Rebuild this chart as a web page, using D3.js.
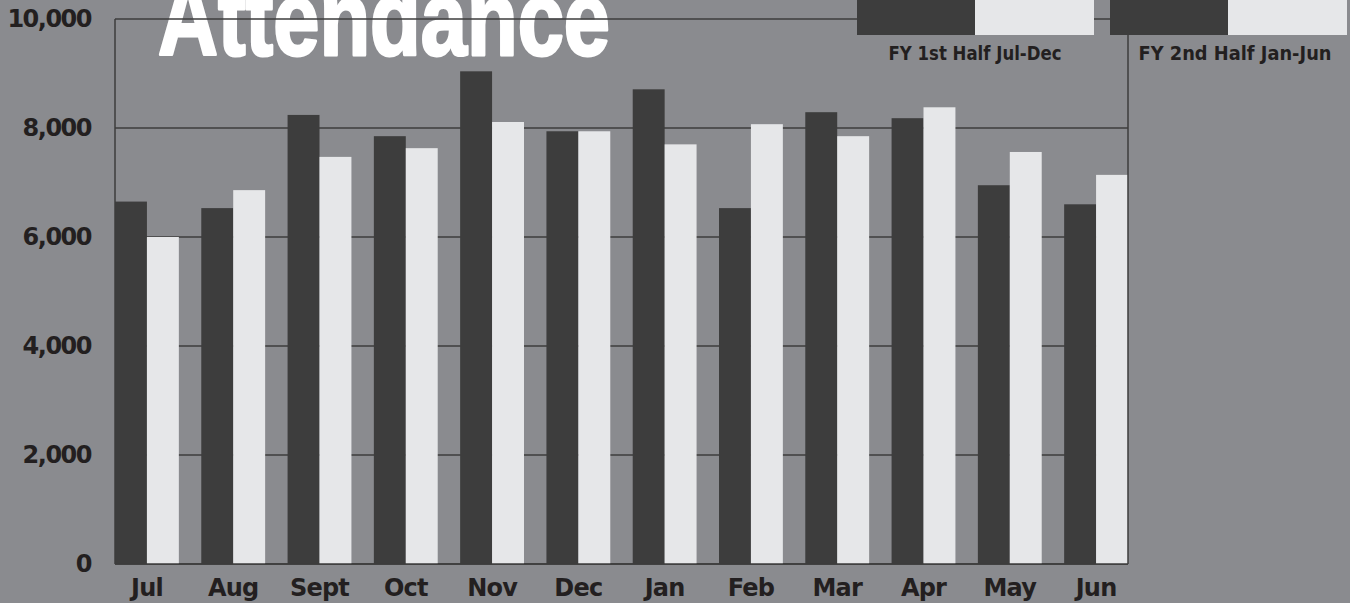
<!DOCTYPE html>
<html>
<head>
<meta charset="utf-8">
<script src="https://cdn.jsdelivr.net/npm/d3@7"></script>
<style>
  html, body { margin: 0; padding: 0; background: #8a8b8f; }
  svg { display: block; }
</style>
</head>
<body>
<div id="chart"></div>
<script>
// donnees
const months = ["Jul", "Aug", "Sept", "Oct", "Nov", "Dec", "Jan", "Feb", "Mar", "Apr", "May", "Jun"];
const series = ["first", "second"];
const firstHalf = [6650, 6530, 8240, 7850, 9040, 7940, 8710, 6530, 8290, 8180, 6950, 6600];
const secondHalf = [6000, 6860, 7470, 7630, 8110, 7940, 7700, 8070, 7850, 8380, 7560, 7140];
const yTicks = [0, 2000, 4000, 6000, 8000, 10000];
const legendLabels = ["FY 1st Half Jul-Dec", "FY 2nd Half Jan-Jun"];

let width = 1350;
let height = 603;

const bg = "#8a8b8f";
const dark = "#3d3d3d";
const light = "#e6e7e9";
const ink = "#231f20";

let svg = d3.select("#chart")
  .append("svg")
  .attr("width", width)
  .attr("height", height);

svg.append("rect")
  .attr("width", width)
  .attr("height", height)
  .attr("fill", bg);

let plotLeft = 115, plotRight = 1128, plotTop = 19, plotBottom = 564;

let x = d3.scaleBand()
  .domain(months)
  .range([plotLeft, plotRight])
  .paddingInner(0.26)
  .paddingOuter(0);

let xs = d3.scaleBand()
  .domain(series)
  .range([0, x.bandwidth()]);

let y = d3.scaleLinear()
  .domain([0, 10000])
  .range([plotBottom, plotTop]);

// titre (sous la grille, comme dans l'original)
svg.append("text")
  .attr("x", 158)
  .attr("y", 55)
  .attr("textLength", 452)
  .attr("lengthAdjust", "spacingAndGlyphs")
  .style("font-family", "'Liberation Sans Narrow', sans-serif")
  .style("font-weight", "bold")
  .style("font-size", "106px")
  .attr("fill", "#ffffff")
  .attr("stroke", "#ffffff")
  .attr("stroke-width", 3)
  .attr("stroke-linejoin", "round")
  .text("Attendance");

// lignes de grille
svg.append("g")
  .selectAll("line")
  .data(yTicks)
  .join("line")
  .attr("x1", plotLeft)
  .attr("x2", plotRight)
  .attr("y1", d => y(d))
  .attr("y2", d => y(d))
  .attr("stroke", dark)
  .attr("stroke-width", 1.5);

// barres
let rows = months.map((m, i) => ({ month: m, first: firstHalf[i], second: secondHalf[i] }));

let groups = svg.append("g")
  .selectAll("g")
  .data(rows)
  .join("g")
  .attr("transform", d => "translate(" + x(d.month) + ",0)");

groups.selectAll("rect")
  .data(d => series.map(s => ({ key: s, value: d[s] })))
  .join("rect")
  .attr("x", d => xs(d.key))
  .attr("y", d => y(d.value))
  .attr("width", xs.bandwidth())
  .attr("height", d => y(0) - y(d.value))
  .attr("fill", d => d.key === "first" ? dark : light);

// cadre : gauche, droite, bas
svg.append("line")
  .attr("x1", plotLeft).attr("x2", plotLeft)
  .attr("y1", plotTop).attr("y2", plotBottom)
  .attr("stroke", dark).attr("stroke-width", 1.5);
svg.append("line")
  .attr("x1", plotRight).attr("x2", plotRight)
  .attr("y1", plotTop).attr("y2", plotBottom)
  .attr("stroke", dark).attr("stroke-width", 1.5);
svg.append("line")
  .attr("x1", plotLeft).attr("x2", plotRight)
  .attr("y1", plotBottom).attr("y2", plotBottom)
  .attr("stroke", dark).attr("stroke-width", 1.5);

// etiquettes axe y
svg.append("g")
  .selectAll("text")
  .data(yTicks)
  .join("text")
  .attr("x", 91)
  .attr("y", d => y(d))
  .attr("dy", "0.35em")
  .attr("text-anchor", "end")
  .style("font-family", "'DejaVu Sans', sans-serif")
  .style("font-weight", "bold")
  .style("font-size", "24px")
  .style("letter-spacing", "-1.5px")
  .attr("fill", ink)
  .text(d => d3.format(",")(d));

// etiquettes axe x
svg.append("g")
  .selectAll("text")
  .data(months)
  .join("text")
  .attr("x", d => x(d) + x.bandwidth() / 2)
  .attr("y", 596)
  .attr("text-anchor", "middle")
  .style("font-family", "'DejaVu Sans', sans-serif")
  .style("font-weight", "bold")
  .style("font-size", "24px")
  .style("letter-spacing", "-0.8px")
  .attr("fill", ink)
  .text(d => d);

// legende
let legendX = [857, 1110];
let legendW = [173, 193];
let legend = svg.append("g")
  .selectAll("g")
  .data(legendLabels)
  .join("g")
  .attr("transform", (d, i) => "translate(" + legendX[i] + ",0)");

legend.append("rect")
  .attr("x", 0).attr("y", 0)
  .attr("width", 118).attr("height", 35)
  .attr("fill", dark);
legend.append("rect")
  .attr("x", 118).attr("y", 0)
  .attr("width", 119).attr("height", 35)
  .attr("fill", light);
legend.append("text")
  .attr("x", (d, i) => 118 - legendW[i] / 2 + (i ? 7 : 0))
  .attr("y", 60)
  .attr("textLength", (d, i) => legendW[i])
  .attr("lengthAdjust", "spacingAndGlyphs")
  .style("font-family", "'DejaVu Sans', sans-serif")
  .style("font-weight", "bold")
  .style("font-size", "19px")
  .attr("fill", ink)
  .text(d => d);
</script>
</body>
</html>
